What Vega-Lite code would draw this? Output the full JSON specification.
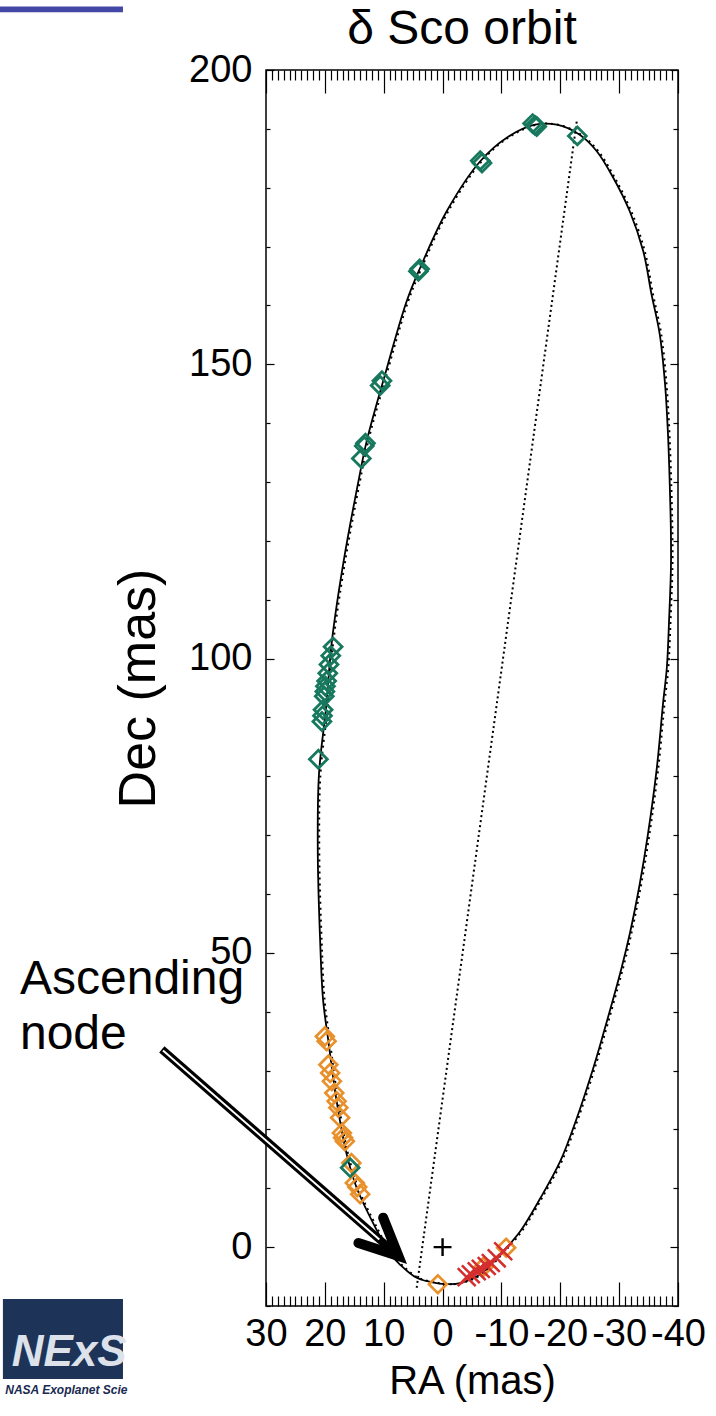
{
  "$schema": "https://vega.github.io/schema/vega-lite/v6.json",
  "width": 412,
  "height": 1236,
  "autosize": {"type": "none"},
  "padding": {"left": 266, "top": 70, "right": 38, "bottom": 110},
  "background": "white",
  "config": {"view": {"stroke": "black", "strokeWidth": 1.5}},
  "title": {"text": "δ Sco orbit", "fontSize": 48, "font": "Liberation Sans", "fontWeight": "normal", "baseline": "alphabetic", "frame": "group", "offset": 0, "dy": 86, "dx": -10, "anchor": "middle", "color": "black"},
  "datasets": {
    "orbit": [
      {"i": 0, "ra": -1.3, "dec": -6.3}, {"i": 1, "ra": 1.0, "dec": -6.1}, {"i": 2, "ra": 4.4, "dec": -5.2},
      {"i": 3, "ra": 7.2, "dec": -3.0}, {"i": 4, "ra": 9.0, "dec": -1.0}, {"i": 5, "ra": 11.5, "dec": 3.5},
      {"i": 6, "ra": 14.6, "dec": 10.1}, {"i": 7, "ra": 16.3, "dec": 15.8}, {"i": 8, "ra": 18.0, "dec": 24.8},
      {"i": 9, "ra": 19.4, "dec": 35.0}, {"i": 10, "ra": 20.3, "dec": 42.0}, {"i": 11, "ra": 20.8, "dec": 52.0},
      {"i": 12, "ra": 21.2, "dec": 67.0}, {"i": 13, "ra": 21.0, "dec": 80.4}, {"i": 14, "ra": 19.8, "dec": 91.6},
      {"i": 15, "ra": 18.8, "dec": 103.0}, {"i": 16, "ra": 16.8, "dec": 116.6}, {"i": 17, "ra": 14.3, "dec": 130.1},
      {"i": 18, "ra": 12.9, "dec": 136.9}, {"i": 19, "ra": 10.1, "dec": 147.1}, {"i": 20, "ra": 6.1, "dec": 160.7},
      {"i": 21, "ra": 3.8, "dec": 166.4}, {"i": 22, "ra": -0.7, "dec": 176.0}, {"i": 23, "ra": -6.4, "dec": 184.5},
      {"i": 24, "ra": -10.9, "dec": 188.5}, {"i": 25, "ra": -15.7, "dec": 190.7}, {"i": 26, "ra": -19.4, "dec": 190.7},
      {"i": 27, "ra": -23.3, "dec": 189.0}, {"i": 28, "ra": -26.2, "dec": 186.2}, {"i": 29, "ra": -29.0, "dec": 181.7},
      {"i": 30, "ra": -31.8, "dec": 176.0}, {"i": 31, "ra": -34.1, "dec": 169.2}, {"i": 32, "ra": -35.5, "dec": 161.9},
      {"i": 33, "ra": -36.9, "dec": 155.1}, {"i": 34, "ra": -37.8, "dec": 146.6}, {"i": 35, "ra": -38.3, "dec": 138.1},
      {"i": 36, "ra": -38.6, "dec": 129.6}, {"i": 37, "ra": -38.8, "dec": 121.1}, {"i": 38, "ra": -38.8, "dec": 115.4},
      {"i": 39, "ra": -38.5, "dec": 106.9}, {"i": 40, "ra": -38.1, "dec": 98.4}, {"i": 41, "ra": -37.5, "dec": 92.8},
      {"i": 42, "ra": -36.4, "dec": 81.4}, {"i": 43, "ra": -34.9, "dec": 70.2}, {"i": 44, "ra": -33.5, "dec": 61.7},
      {"i": 45, "ra": -31.8, "dec": 53.2}, {"i": 46, "ra": -30.4, "dec": 47.4}, {"i": 47, "ra": -27.3, "dec": 36.2},
      {"i": 48, "ra": -25.6, "dec": 30.4}, {"i": 49, "ra": -22.8, "dec": 21.9}, {"i": 50, "ra": -20.0, "dec": 14.6},
      {"i": 51, "ra": -16.6, "dec": 8.3}, {"i": 52, "ra": -13.2, "dec": 2.7}, {"i": 53, "ra": -10.3, "dec": -0.7},
      {"i": 54, "ra": -6.4, "dec": -4.6}, {"i": 55, "ra": -3.0, "dec": -6.1}, {"i": 56, "ra": -1.3, "dec": -6.3}
    ],
    "nodes": [{"i": 0, "ra": 4.4, "dec": -6.9}, {"i": 1, "ra": -22.8, "dec": 191.3}],
    "obs": [
      {"g": "orange", "ra": 20.0, "dec": 35.8}, {"g": "orange", "ra": 19.7, "dec": 35.0},
      {"g": "orange", "ra": 19.4, "dec": 31.0}, {"g": "orange", "ra": 19.1, "dec": 29.6},
      {"g": "orange", "ra": 18.8, "dec": 28.2}, {"g": "orange", "ra": 18.4, "dec": 26.2},
      {"g": "orange", "ra": 18.0, "dec": 24.8}, {"g": "orange", "ra": 17.7, "dec": 23.7},
      {"g": "orange", "ra": 17.4, "dec": 22.0}, {"g": "orange", "ra": 17.1, "dec": 19.4},
      {"g": "orange", "ra": 16.9, "dec": 18.6}, {"g": "orange", "ra": 16.6, "dec": 18.0},
      {"g": "orange", "ra": 15.5, "dec": 14.3}, {"g": "orange", "ra": 14.9, "dec": 10.9},
      {"g": "orange", "ra": 14.5, "dec": 10.2}, {"g": "orange", "ra": 14.0, "dec": 9.0},
      {"g": "orange", "ra": 0.8, "dec": -6.3}, {"g": "orange", "ra": -6.9, "dec": -3.4},
      {"g": "orange", "ra": -10.8, "dec": -0.1},
      {"g": "green", "ra": -22.9, "dec": 188.8}, {"g": "green", "ra": -15.3, "dec": 190.9},
      {"g": "green", "ra": -15.7, "dec": 190.6}, {"g": "green", "ra": -16.0, "dec": 190.4},
      {"g": "green", "ra": -6.4, "dec": 184.6}, {"g": "green", "ra": -6.7, "dec": 184.2},
      {"g": "green", "ra": 3.9, "dec": 166.2}, {"g": "green", "ra": 4.1, "dec": 165.8},
      {"g": "green", "ra": 10.3, "dec": 147.2}, {"g": "green", "ra": 10.6, "dec": 146.4},
      {"g": "green", "ra": 13.1, "dec": 136.6}, {"g": "green", "ra": 13.3, "dec": 136.1},
      {"g": "green", "ra": 13.8, "dec": 134.0}, {"g": "green", "ra": 18.6, "dec": 102.0},
      {"g": "green", "ra": 19.0, "dec": 100.5}, {"g": "green", "ra": 19.3, "dec": 99.0},
      {"g": "green", "ra": 19.5, "dec": 97.5}, {"g": "green", "ra": 19.7, "dec": 96.2},
      {"g": "green", "ra": 19.9, "dec": 95.3}, {"g": "green", "ra": 20.0, "dec": 94.4},
      {"g": "green", "ra": 20.1, "dec": 93.6}, {"g": "green", "ra": 20.3, "dec": 91.3},
      {"g": "green", "ra": 20.4, "dec": 90.3}, {"g": "green", "ra": 20.5, "dec": 89.3},
      {"g": "green", "ra": 21.1, "dec": 82.9}, {"g": "green", "ra": 15.7, "dec": 13.5},
      {"g": "red", "ra": -4.1, "dec": -5.1}, {"g": "red", "ra": -4.8, "dec": -4.6},
      {"g": "red", "ra": -5.8, "dec": -4.1}, {"g": "red", "ra": -6.5, "dec": -3.7},
      {"g": "red", "ra": -7.5, "dec": -3.2}, {"g": "red", "ra": -8.2, "dec": -2.7},
      {"g": "red", "ra": -9.2, "dec": -1.9}, {"g": "red", "ra": -10.3, "dec": -0.7},
      {"g": "plus", "ra": 0.0, "dec": 0.0}
    ],
    "shaft": [{"i": 0, "ra": 47.7, "dec": 33.6}, {"i": 1, "ra": 7.5, "dec": -1.5}],
    "shaftInner": [{"i": 0, "ra": 47.5, "dec": 33.4}, {"i": 1, "ra": 10.75, "dec": 1.3}],
    "head": [{"i": 0, "ra": 10.1, "dec": 5.0}, {"i": 1, "ra": 7.5, "dec": -1.5}, {"i": 2, "ra": 14.3, "dec": 0.7}],
    "notes": [{"ra": 71.8, "dec": 43.0, "txt": "Ascending"}, {"ra": 71.8, "dec": 33.6, "txt": "node"}],
    "bar": [{"ra": 75.2, "ra2": 54.3, "dec": 210.8, "dec2": 209.8}],
    "logo": [{"ra": 74.7, "ra2": 54.3, "dec": -8.8, "dec2": -22.4}],
    "logoText": [{"ra": 73.2, "dec": -20.2, "txt": "NExS"}],
    "logoSub": [{"ra": 74.3, "dec": -25.0, "txt": "NASA Exoplanet Scie"}]
  },
  "encoding": {
    "x": {"field": "ra", "type": "quantitative", "scale": {"domain": [-40, 30], "reverse": true, "nice": false, "zero": false}, "axis": null},
    "y": {"field": "dec", "type": "quantitative", "scale": {"domain": [-10, 200], "nice": false, "zero": false}, "axis": null}
  },
  "layer": [
    {
      "data": {"name": "orbit"},
      "mark": {"type": "line", "color": "black", "strokeWidth": 1.8, "interpolate": "catmull-rom"},
      "encoding": {
        "order": {"field": "i", "type": "quantitative"},
        "x": {"field": "ra", "type": "quantitative", "scale": {"domain": [-40, 30], "reverse": true, "nice": false, "zero": false},
          "axis": {"orient": "bottom", "values": [-40,-39,-38,-37,-36,-35,-34,-33,-32,-31,-30,-29,-28,-27,-26,-25,-24,-23,-22,-21,-20,-19,-18,-17,-16,-15,-14,-13,-12,-11,-10,-9,-8,-7,-6,-5,-4,-3,-2,-1,0,1,2,3,4,5,6,7,8,9,10,11,12,13,14,15,16,17,18,19,20,21,22,23,24,25,26,27,28,29,30],
            "labelExpr": "datum.value % 10 === 0 ? '' + datum.value : ''",
            "tickSize": {"condition": {"test": "datum.value % 10 === 0", "value": -24}, "value": -10},
            "labelPadding": 33, "labelFlush": false, "labelOverlap": false, "labelBound": false,
            "domain": false, "grid": false, "tickColor": "black", "tickWidth": 1.2,
            "labelFontSize": 38, "labelFont": "Liberation Sans", "labelColor": "black",
            "title": "RA (mas)", "titleFontSize": 40, "titleFont": "Liberation Sans", "titleFontWeight": "normal", "titleColor": "black", "titlePadding": -6}},
        "y": {"field": "dec", "type": "quantitative", "scale": {"domain": [-10, 200], "nice": false, "zero": false},
          "axis": {"orient": "left", "values": [-10,0,10,20,30,40,50,60,70,80,90,100,110,120,130,140,150,160,170,180,190,200],
            "labelExpr": "datum.value % 50 === 0 ? '' + datum.value : ''",
            "tickSize": {"condition": {"test": "datum.value % 50 === 0", "value": -8}, "value": -4},
            "labelPadding": 22, "labelFlush": false, "labelOverlap": false, "labelBound": false,
            "domain": false, "grid": false, "tickColor": "black", "tickWidth": 1.2,
            "labelFontSize": 38, "labelFont": "Liberation Sans", "labelColor": "black",
            "title": "Dec (mas)", "titleFontSize": 52, "titleFont": "Liberation Sans", "titleFontWeight": "normal", "titleColor": "black", "titlePadding": 23}}
      }
    },
    {
      "data": {"name": "orbit"},
      "mark": {"type": "line", "color": "black", "strokeWidth": 2, "strokeDash": [2, 4], "xOffset": 1.5, "interpolate": "catmull-rom"},
      "encoding": {"order": {"field": "i", "type": "quantitative"}}
    },
    {
      "data": {"name": "nodes"},
      "mark": {"type": "line", "color": "black", "strokeWidth": 2, "strokeDash": [2, 3]},
      "encoding": {
        "order": {"field": "i", "type": "quantitative"},
        "x": {"field": "ra", "type": "quantitative", "scale": {"domain": [-40, 30], "reverse": true, "nice": false, "zero": false},
          "axis": {"orient": "top", "values": [-40,-39,-38,-37,-36,-35,-34,-33,-32,-31,-30,-29,-28,-27,-26,-25,-24,-23,-22,-21,-20,-19,-18,-17,-16,-15,-14,-13,-12,-11,-10,-9,-8,-7,-6,-5,-4,-3,-2,-1,0,1,2,3,4,5,6,7,8,9,10,11,12,13,14,15,16,17,18,19,20,21,22,23,24,25,26,27,28,29,30],
            "labels": false, "title": null, "domain": false, "grid": false, "tickColor": "black", "tickWidth": 1.2,
            "tickSize": {"condition": {"test": "datum.value % 10 === 0", "value": -23}, "value": -10}}},
        "y": {"field": "dec", "type": "quantitative", "scale": {"domain": [-10, 200], "nice": false, "zero": false},
          "axis": {"orient": "right", "values": [-10,0,10,20,30,40,50,60,70,80,90,100,110,120,130,140,150,160,170,180,190,200],
            "labels": false, "title": null, "domain": false, "grid": false, "tickColor": "black", "tickWidth": 1.2,
            "tickSize": {"condition": {"test": "datum.value % 50 === 0", "value": -8}, "value": -5}}}
      }
    },
    {
      "data": {"name": "obs"},
      "mark": {"type": "point", "filled": false, "opacity": 1},
      "encoding": {
        "color": {"field": "g", "type": "nominal", "scale": {"domain": ["green", "orange", "red", "plus"], "range": ["#17785e", "#e8912c", "#d42e2e", "#000000"]}, "legend": null},
        "shape": {"field": "g", "type": "nominal", "scale": {"domain": ["green", "orange", "red", "plus"], "range": ["diamond", "diamond", "M-1,-1L1,1M-1,1L1,-1", "M-1,0L1,0M0,-1L0,1"]}, "legend": null},
        "size": {"field": "g", "type": "nominal", "scale": {"domain": ["green", "orange", "red", "plus"], "range": [320, 320, 220, 200]}, "legend": null},
        "strokeWidth": {"field": "g", "type": "nominal", "scale": {"domain": ["green", "orange", "red", "plus"], "range": [2.8, 2.4, 1.8, 1.5]}, "legend": null}
      }
    },
    {
      "data": {"name": "shaft"},
      "mark": {"type": "line", "color": "black", "strokeWidth": 8},
      "encoding": {"order": {"field": "i", "type": "quantitative"}}
    },
    {
      "data": {"name": "shaftInner"},
      "mark": {"type": "line", "color": "white", "strokeWidth": 2},
      "encoding": {"order": {"field": "i", "type": "quantitative"}}
    },
    {
      "data": {"name": "head"},
      "mark": {"type": "line", "color": "black", "strokeWidth": 10, "strokeJoin": "miter", "strokeCap": "round"},
      "encoding": {"order": {"field": "i", "type": "quantitative"}}
    },
    {
      "data": {"name": "notes"},
      "mark": {"type": "text", "align": "left", "baseline": "alphabetic", "fontSize": 48, "font": "Liberation Sans", "color": "black"},
      "encoding": {"text": {"field": "txt"}}
    },
    {
      "data": {"name": "bar"},
      "mark": {"type": "rect", "color": "#4347a6"},
      "encoding": {"x2": {"field": "ra2"}, "y2": {"field": "dec2"}}
    },
    {
      "data": {"name": "logo"},
      "mark": {"type": "rect", "color": "#1d3358"},
      "encoding": {"x2": {"field": "ra2"}, "y2": {"field": "dec2"}}
    },
    {
      "data": {"name": "logoText"},
      "mark": {"type": "text", "align": "left", "baseline": "alphabetic", "fontSize": 44, "font": "Liberation Sans", "fontStyle": "italic", "fontWeight": "bold", "color": "#dde2ea"},
      "encoding": {"text": {"field": "txt"}}
    },
    {
      "data": {"name": "logoSub"},
      "mark": {"type": "text", "align": "left", "baseline": "alphabetic", "fontSize": 12, "font": "Liberation Sans", "fontStyle": "italic", "fontWeight": "bold", "color": "#1a2a50"},
      "encoding": {"text": {"field": "txt"}}
    }
  ],
  "resolve": {"axis": {"x": "independent", "y": "independent"}}
}
